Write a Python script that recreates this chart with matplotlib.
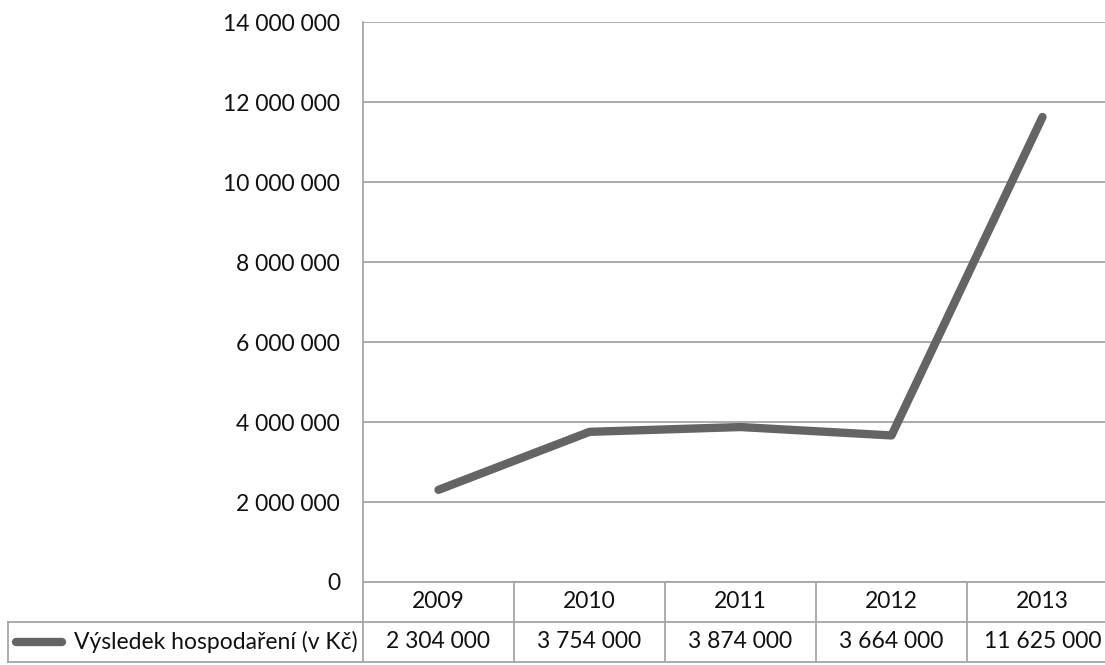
import matplotlib
matplotlib.use("Agg")
import matplotlib.pyplot as plt
from matplotlib.lines import Line2D

plt.rcParams['font.family'] = ['Lato', 'DejaVu Sans']

# Data
years = ["2009", "2010", "2011", "2012", "2013"]
result = [2304000, 3754000, 3874000, 3664000, 11625000]
series_name = "Výsledek hospodaření (v Kč)"
y_ticks = [0, 2000000, 4000000, 6000000, 8000000, 10000000, 12000000, 14000000]

W, H = 1105, 665
fig = plt.figure(figsize=(W / 100, H / 100), dpi=100)

line_color = "#646464"
grid_color = "#a6a6a6"
text_color = "#111111"
fs = 16.5

# Plot area in pixels: left 363, top 22, bottom 582, columns of 151 px
left_px, top_px, bottom_px, col_w = 363, 22, 582, 151
n = len(years)
ax = fig.add_axes([left_px / W, 1 - bottom_px / H,
                   n * col_w / W, (bottom_px - top_px) / H])


def fmt(v):
    return f"{v:,.0f}".replace(",", " ")


x = list(range(n))
ax.plot(x, result, color=line_color, lw=6, solid_capstyle="round",
        solid_joinstyle="round", zorder=3)

ax.set_xlim(-0.5, n - 0.5)
ax.set_ylim(0, 14000000)
ax.set_yticks(y_ticks)
ax.set_yticklabels([fmt(v) for v in y_ticks], fontsize=fs, color=text_color)
ax.tick_params(axis="y", length=0, pad=16.5)
ax.set_xticks([])
ax.grid(axis="y", color=grid_color, lw=1.3)
ax.set_axisbelow(True)
for s in ["top", "right", "bottom"]:
    ax.spines[s].set_visible(False)
ax.spines["left"].set_color(grid_color)
ax.spines["left"].set_linewidth(1.3)

# Data table beneath the plot area
tr = ax.get_xaxis_transform()
row_h = 40 / (bottom_px - top_px)
y0, y1, y2 = 0.0, -row_h, -2 * row_h
legend_left = (8 - left_px) / col_w - 0.5  # in data x units

kw = dict(color=grid_color, lw=1.3, transform=tr, clip_on=False)
# horizontal rules
ax.add_line(Line2D([-0.5, n - 0.5], [y0, y0], **kw))
ax.add_line(Line2D([legend_left, n - 0.5], [y1, y1], **kw))
ax.add_line(Line2D([legend_left, n - 0.5], [y2, y2], **kw))
# vertical rules
for i in range(n + 1):
    ax.add_line(Line2D([i - 0.5, i - 0.5], [y0, y2], **kw))
ax.add_line(Line2D([legend_left, legend_left], [y1, y2], **kw))

for i, (yr, v) in enumerate(zip(years, result)):
    ax.text(i, (y0 + y1) / 2, yr, transform=tr, ha="center", va="center",
            fontsize=fs, color=text_color, clip_on=False)
    ax.text(i, (y1 + y2) / 2, fmt(v), transform=tr, ha="center", va="center",
            fontsize=fs, color=text_color, clip_on=False)

# legend key inside the table
key_x0 = (16 - left_px) / col_w - 0.5
key_x1 = (62 - left_px) / col_w - 0.5
ax.add_line(Line2D([key_x0, key_x1], [(y1 + y2) / 2] * 2, color=line_color,
                   lw=6, solid_capstyle="round", transform=tr, clip_on=False))
ax.text(-0.5 - 5 / col_w, (y1 + y2) / 2, series_name, transform=tr,
        ha="right", va="center", fontsize=fs, color=text_color, clip_on=False)

fig.savefig("out.png", dpi=100)
